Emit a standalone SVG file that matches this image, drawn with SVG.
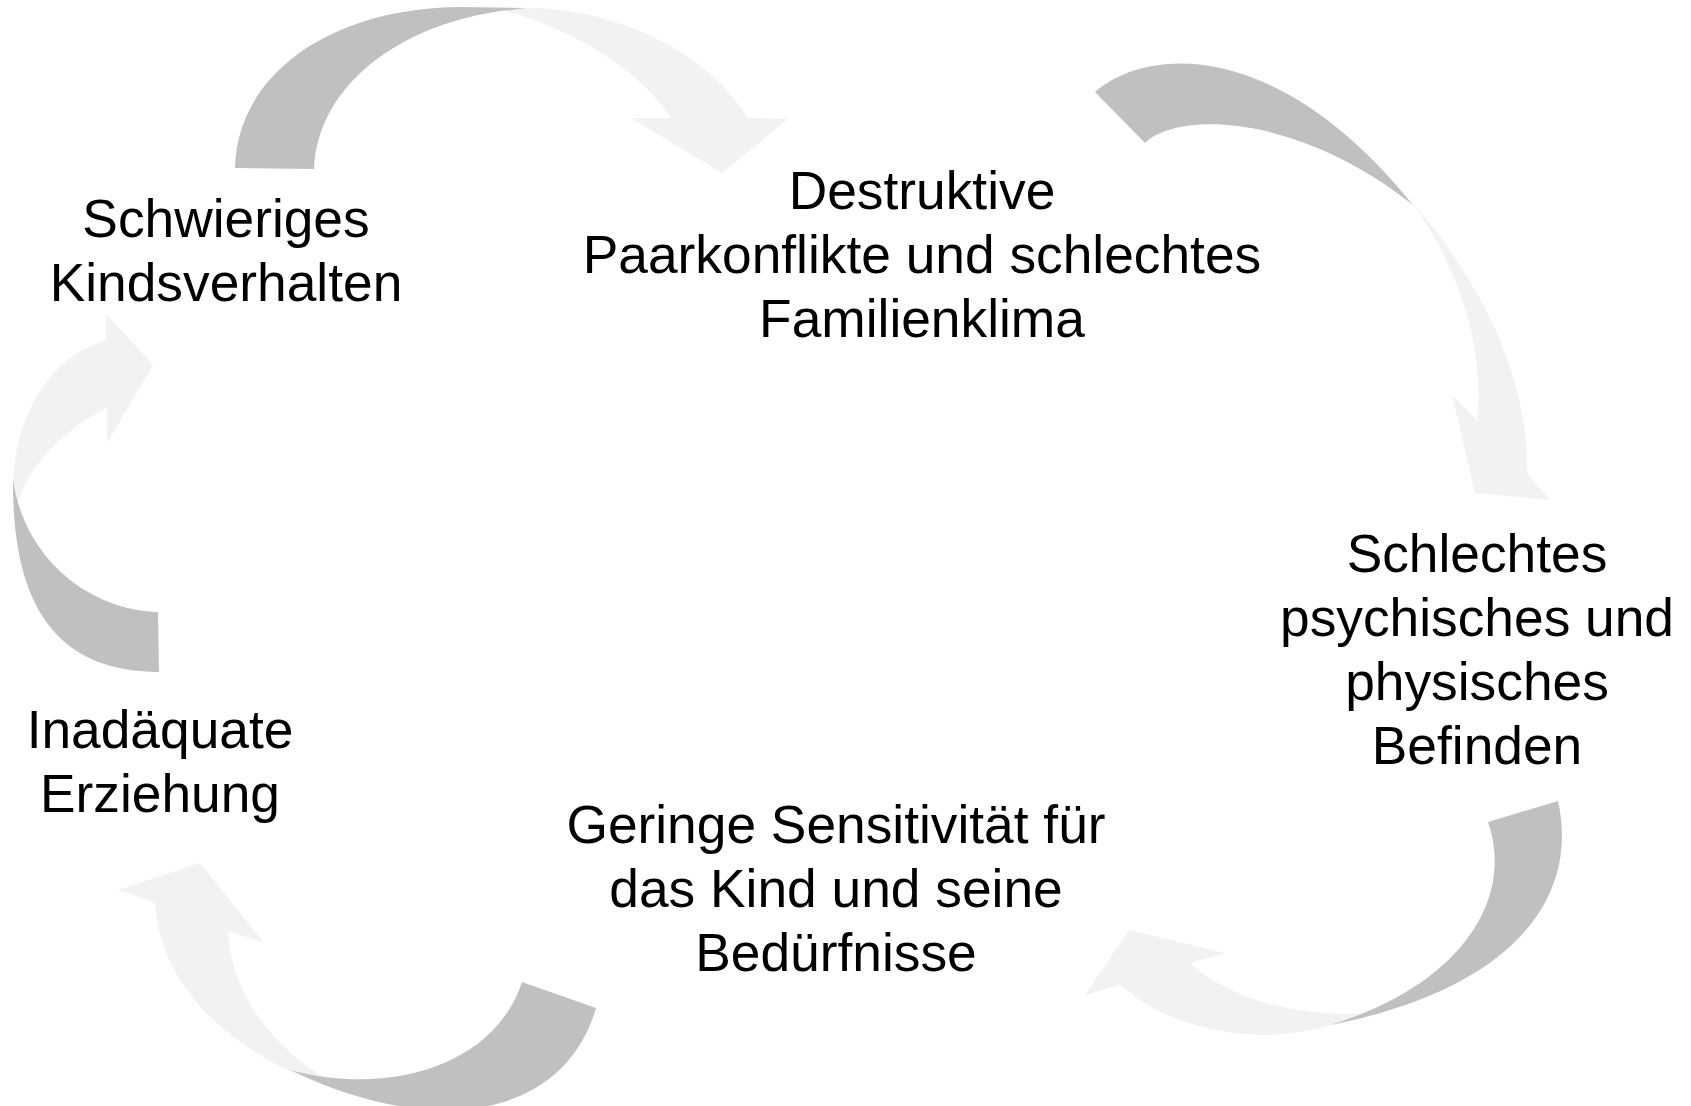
<svg xmlns="http://www.w3.org/2000/svg" width="1691" height="1106" viewBox="0 0 1691 1106">
<style>
.lbl{font-family:"Liberation Sans",Arial,sans-serif;font-size:53.3px;fill:#000;text-anchor:middle}
.dk{fill:#c0c0c0}
.lt{fill:#f2f2f2}
</style>
<rect width="1691" height="1106" fill="#fff"/>
<g id="connectors">
  <g id="arrow-1">
    <path class="lt" d="M503,10 L526,8 C620,8 710,55 748,118 L788,119 L722,173 L631,118 L671,118 C650,85 595,35 503,10 Z"/>
    <path class="dk" d="M235,168 C237,75 330,8 460,7 L526,8 L511,10 C410,20 318,80 314,169 Z"/>
  </g>
  <g id="arrow-2">
    <path class="lt" d="M1413,203 C1480,280 1530,380 1527,473 L1550,500 L1475,493 L1452,395 L1477,420 C1485,350 1460,270 1413,203 Z"/>
    <path class="dk" d="M1095,92 C1150,45 1280,40 1413,205 C1300,115 1180,110 1145,143 Z"/>
  </g>
  <g id="arrow-3">
    <path class="lt" d="M1370,1013 L1330,1025 C1270,1044 1180,1037 1120,985 L1085,995 L1129,930 L1225,953 L1190,963 C1230,1000 1300,1018 1370,1013 Z"/>
    <path class="dk" d="M1488,822 L1558,801 C1580,900 1510,990 1330,1025 C1460,985 1515,900 1488,822 Z"/>
  </g>
  <g id="arrow-4">
    <path class="lt" d="M325,1078 L293,1072 C220,1040 160,980 155,903 L118,890 L200,863 L264,943 L228,931 C230,990 270,1045 325,1078 Z"/>
    <path class="dk" d="M522,982 L596,1008 C565,1115 440,1142 290,1070 C390,1097 495,1065 522,982 Z"/>
  </g>
  <g id="arrow-5">
    <path class="lt" d="M13,495 C12,410 55,355 106,340 L106,314 L153,365 L107,443 L107,408 C70,425 25,465 16,510 Z"/>
    <path class="dk" d="M158,612 L159,672 C60,672 12,610 13,480 C25,560 90,610 158,612 Z"/>
  </g>
</g>
<g id="node-kindsverhalten">
  <text class="lbl" x="226" y="237">Schwieriges</text>
  <text class="lbl" x="226" y="301">Kindsverhalten</text>
</g>
<g id="node-paarkonflikte">
  <text class="lbl" x="922" y="209">Destruktive</text>
  <text class="lbl" x="922" y="273">Paarkonflikte und schlechtes</text>
  <text class="lbl" x="922" y="337">Familienklima</text>
</g>
<g id="node-befinden">
  <text class="lbl" x="1477" y="572">Schlechtes</text>
  <text class="lbl" x="1477" y="636">psychisches und</text>
  <text class="lbl" x="1477" y="700">physisches</text>
  <text class="lbl" x="1477" y="764">Befinden</text>
</g>
<g id="node-sensitivitaet">
  <text class="lbl" x="836" y="843">Geringe Sensitivität für</text>
  <text class="lbl" x="836" y="907">das Kind und seine</text>
  <text class="lbl" x="836" y="971">Bedürfnisse</text>
</g>
<g id="node-erziehung">
  <text class="lbl" x="160" y="748">Inadäquate</text>
  <text class="lbl" x="160" y="812">Erziehung</text>
</g>
</svg>
